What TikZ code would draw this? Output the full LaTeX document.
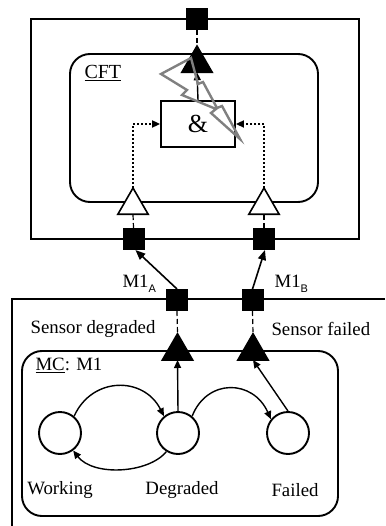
\documentclass[tikz,border=0pt]{standalone}
\usepackage{fontspec}
\setmainfont{Liberation Serif}
\newfontfamily\subsf{Liberation Sans}
\usetikzlibrary{shapes.geometric,arrows.meta}
\begin{document}
\begin{tikzpicture}[x=1pt,y=-1pt,
  every node/.style={font=\fontsize{18.8}{22}\selectfont},
  port/.style={rectangle,fill=black,minimum size=22pt,inner sep=0pt,outer sep=0pt},
  trigate/.style={regular polygon,regular polygon sides=3,minimum size=35pt,inner sep=0pt,outer sep=0pt,draw,line width=1.6pt},
  blk/.style={trigate,fill=black},
  wht/.style={trigate,fill=white},
  bx/.style={line width=1.9pt},
  stnode/.style={circle,draw,line width=1.9pt,minimum size=42pt,inner sep=0pt},
  arr/.style={line width=1.4pt,-{Triangle[length=8pt,width=7pt]}},
  arrup/.style={line width=1.6pt,-{Triangle[length=10pt,width=8pt]}},
  dots/.style={line width=2pt,dash pattern=on 2pt off 2pt,-{Triangle[length=8pt,width=7pt]}},
  dsh/.style={line width=1.2pt,dash pattern=on 5pt off 3pt},
  bolt/.style={draw=gray,line width=2.4pt,line join=miter},
]
\useasboundingbox (0,0) rectangle (385,526);

% ---------------- CFT ----------------
\draw[bx] (31,19) rectangle (359,239);
\draw[bx,rounded corners=20pt] (70,54) rectangle (318,202);
\node[anchor=west] (cft) at (81,73) {\fontsize{20}{22}\selectfont\underline{CFT}};
\node[draw,bx,minimum width=74pt,minimum height=46pt,inner sep=0pt] (and) at (198,124) {\fontsize{26}{26}\selectfont\&};

\node[port] (pout) at (197,19) {};
\node[blk] (tout) at (197,63.5) {};
\draw[dsh] (pout.south) -- (tout.north);
\draw[arr] (and.north) -- (tout.south);

\node[wht] (tinA) at (133,205.5) {};
\node[wht] (tinB) at (264,205.5) {};
\node[port] (pinA) at (133.5,239) {};
\node[port] (pinB) at (264,239) {};
\draw[dsh] (pinA.north) -- (tinA.south);
\draw[dsh] (pinB.north) -- (tinB.south);
\draw[dots] (tinA.north) |- (and.west);
\draw[dots] (tinB.north) |- (and.east);

\draw[bolt] (191,58) -- (161,74) -- (187,90) -- (182,95) -- (216,109) -- (211,113)
  -- (240,139) -- (222,106) -- (217,108) -- (203,82) -- (198,84) -- cycle;

% ---------------- lower component ----------------
\draw[bx] (385,299) -- (12,299) -- (12,526);
\node[port] (qA) at (177,300) {};
\node[port] (qB) at (252.5,300) {};
\draw[arrup] (qA.north) -- (pinA.-80);
\draw[arrup] (qB.north) -- (pinB.-85);
\node[anchor=base west] (mA) at (119,287) {M1\raisebox{-5pt}{\fontsize{11}{11}\selectfont\subsf A}};
\node[anchor=base west] (mB) at (271,287) {M1\raisebox{-5pt}{\fontsize{11}{11}\selectfont\subsf B}};

\node[anchor=east] (sdeg) at (159,329) {Sensor degraded};
\node[anchor=west] (sfail) at (268,329) {Sensor failed};

\draw[bx,rounded corners=20pt] (22,351) rectangle (338,516);
\node[blk] (sA) at (177.5,351.25) {};
\node[blk] (sB) at (253,351.25) {};
\draw[dsh] (qA.south) -- (sA.north);
\draw[dsh] (qB.south) -- (sB.north);
\node[anchor=west] (mc) at (32,365) {\underline{MC}: M1};

\node[stnode] (wk) at (60,433) {};
\node[stnode] (dg) at (178,433) {};
\node[stnode] (fl) at (288,433) {};
\node (lwk) at (60,490) {Working};
\node (ldg) at (182,490) {Degraded};
\node (lfl) at (295,490) {Failed};

\draw[arr] (dg.north) -- (sA.south);
\draw[arr] (fl.north) -- (sB.south);
\draw[arr] (wk.50) .. controls +(18,-40) and +(-20,-40) .. (dg.130);
\draw[arr] (dg.238) .. controls +(-18,22) and +(20,26) .. (wk.307);
\draw[arr] (dg.50) .. controls +(15,-38) and +(-18,-40) .. (fl.141);
\end{tikzpicture}
\end{document}
